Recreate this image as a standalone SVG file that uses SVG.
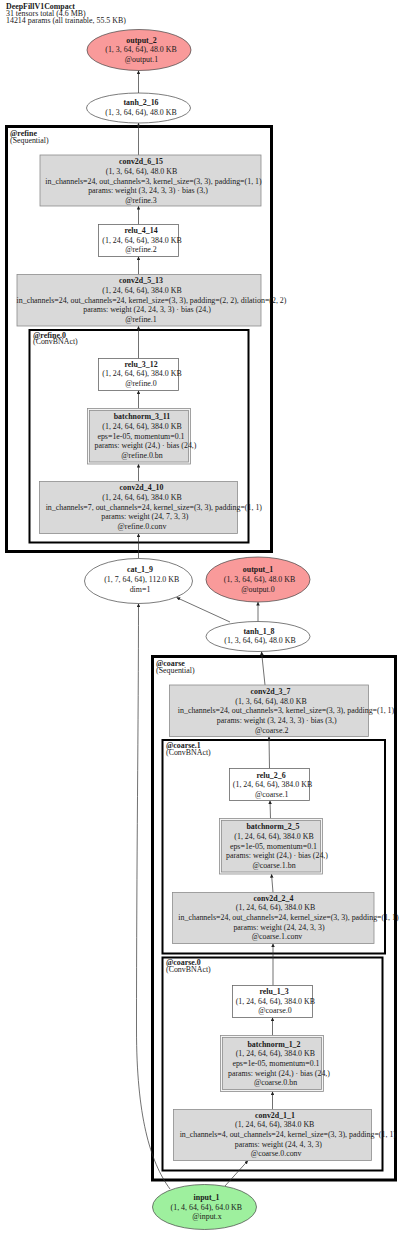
<svg xmlns="http://www.w3.org/2000/svg" width="400" height="1233" viewBox="0 0 400 1233">
<style>
text { font-family: "Liberation Serif", "Times New Roman", serif; font-size: 7.9px; fill: #1a1a1a; }
.c { text-anchor: middle; }
.b { font-weight: bold; }
.box { fill: #d9d9d9; stroke: #8c8c8c; stroke-width: 0.8; }
.bnin { fill: #d9d9d9; stroke: #8c8c8c; stroke-width: 0.8; }
.bnout { fill: #f4f4f4; stroke: #8c8c8c; stroke-width: 0.8; }
.wbox { fill: #ffffff; stroke: #666666; stroke-width: 0.8; }
.ell { fill: #ffffff; stroke: #444444; stroke-width: 0.7; }
.out { fill: #f99a9a; stroke: #444444; stroke-width: 0.7; }
.inp { fill: #9ef09e; stroke: #444444; stroke-width: 0.7; }
.cl { fill: none; stroke: #000000; stroke-width: 3; }
.cl2 { fill: none; stroke: #000000; stroke-width: 2; }
.e { fill: none; stroke: #333333; stroke-width: 0.7; marker-end: url(#ah); }
</style>
<defs>
<marker id="ah" viewBox="0 0 10 10" refX="10" refY="5" markerWidth="4" markerHeight="3.6" markerUnits="userSpaceOnUse" orient="auto">
<path d="M0,0 L10,5 L0,10 z" fill="#222222"/>
</marker>
</defs>
<rect width="400" height="1233" fill="#ffffff"/>

<g id="header">
<text x="6" y="8.8" class="b">DeepFillV1Compact</text>
<text x="6" y="16.4">31 tensors total (4.6 MB)</text>
<text x="6" y="23.2">14214 params (all trainable, 55.5 KB)</text>
</g>

<g id="cluster_refine">
<rect class="cl" x="6.5" y="126.5" width="265" height="425"/>
<text x="10" y="135.5" class="b">@refine</text>
<text x="10" y="142.5">(Sequential)</text>
</g>
<g id="cluster_refine_0">
<rect class="cl2" x="29.5" y="330" width="219" height="212.5"/>
<text x="33" y="337.7" class="b">@refine.0</text>
<text x="33" y="344.4">(ConvBNAct)</text>
</g>
<g id="cluster_coarse">
<rect class="cl" x="152.5" y="656.5" width="243" height="523.5"/>
<text x="156" y="665.8" class="b">@coarse</text>
<text x="156" y="672.5">(Sequential)</text>
</g>
<g id="cluster_coarse_1">
<rect class="cl2" x="162.5" y="740" width="222.5" height="213.5"/>
<text x="166" y="748.2" class="b">@coarse.1</text>
<text x="166" y="755">(ConvBNAct)</text>
</g>
<g id="cluster_coarse_0">
<rect class="cl2" x="162.5" y="957.5" width="220" height="213"/>
<text x="166" y="965" class="b">@coarse.0</text>
<text x="166" y="971.8">(ConvBNAct)</text>
</g>

<g id="connectors">
<path class="e" d="M138.5,93 L138.5,70.5"/>
<path class="e" d="M138.5,155 L138.5,123"/>
<path class="e" d="M138.5,224.5 L138.5,206"/>
<path class="e" d="M138.5,274.5 L138.5,256.5"/>
<path class="e" d="M138.5,358.5 L138.5,326"/>
<path class="e" d="M138.5,408.5 L138.5,390.5"/>
<path class="e" d="M138.5,481.5 L138.5,464"/>
<path class="e" d="M138.5,558.5 L138.5,533.5"/>
<path class="e" d="M230,622 L176.5,597.5"/>
<path class="e" d="M258,621.5 L258,602"/>
<path class="e" d="M265,685 L261.5,651.5"/>
<path class="e" d="M269.5,768.5 L269,736.5"/>
<path class="e" d="M270.5,818.5 L270,800.5"/>
<path class="e" d="M273,892.5 L271.5,874"/>
<path class="e" d="M273,985.5 L273,943.5"/>
<path class="e" d="M272.5,1035.5 L272.5,1017.5"/>
<path class="e" d="M272.5,1109.5 L272.5,1091.5"/>
<path class="e" d="M225,1186 L248,1160.5"/>
<path class="e" d="M170,1189 C150,1162 136.5,1115 136.5,1030 C136.5,860 138.5,720 138.5,603.5"/>
</g>

<g id="output_2">
<ellipse class="out" cx="139" cy="50" rx="52" ry="20.5"/>
<text x="141.5" y="42.6" class="c b">output_2</text>
<text x="141" y="52.3" class="c">(1, 3, 64, 64), 48.0 KB</text>
<text x="141.5" y="62" class="c">@output.1</text>
</g>
<g id="tanh_2_16">
<ellipse class="ell" cx="138.5" cy="108" rx="52" ry="15"/>
<text x="141" y="105" class="c b">tanh_2_16</text>
<text x="141" y="114.5" class="c">(1, 3, 64, 64), 48.0 KB</text>
</g>
<g id="conv2d_6_15">
<rect class="box" x="40" y="155" width="221" height="51"/>
<text x="141" y="164.4" class="c b">conv2d_6_15</text>
<text x="141.5" y="173.9" class="c">(1, 3, 64, 64), 48.0 KB</text>
<text x="153.5" y="183.5" class="c">in_channels=24, out_channels=3, kernel_size=(3, 3), padding=(1, 1)</text>
<text x="148" y="193" class="c">params: weight (3, 24, 3, 3) · bias (3,)</text>
<text x="141" y="202.7" class="c">@refine.3</text>
</g>
<g id="relu_4_14">
<rect class="wbox" x="98.5" y="224.5" width="80" height="32"/>
<text x="141" y="233" class="c b">relu_4_14</text>
<text x="142" y="242.7" class="c">(1, 24, 64, 64), 384.0 KB</text>
<text x="141" y="252.3" class="c">@refine.2</text>
</g>
<g id="conv2d_5_13">
<rect class="box" x="17" y="274.5" width="244" height="51.5"/>
<text x="141" y="283.4" class="c b">conv2d_5_13</text>
<text x="142" y="293" class="c">(1, 24, 64, 64), 384.0 KB</text>
<text x="151.5" y="302.7" class="c">in_channels=24, out_channels=24, kernel_size=(3, 3), padding=(2, 2), dilation=(2, 2)</text>
<text x="147" y="312.2" class="c">params: weight (24, 24, 3, 3) · bias (24,)</text>
<text x="141" y="322" class="c">@refine.1</text>
</g>
<g id="relu_3_12">
<rect class="wbox" x="98.5" y="358.5" width="80" height="32"/>
<text x="141" y="366.8" class="c b">relu_3_12</text>
<text x="142" y="376.4" class="c">(1, 24, 64, 64), 384.0 KB</text>
<text x="141" y="386" class="c">@refine.0</text>
</g>
<g id="batchnorm_3_11">
<rect class="bnout" x="87.5" y="408.5" width="103" height="55.5"/>
<rect class="bnin" x="89.5" y="410.5" width="99" height="51.5"/>
<text x="142" y="419.4" class="c b">batchnorm_3_11</text>
<text x="142" y="429.2" class="c">(1, 24, 64, 64), 384.0 KB</text>
<text x="141" y="438.7" class="c">eps=1e-05, momentum=0.1</text>
<text x="145.5" y="448.4" class="c">params: weight (24,) · bias (24,)</text>
<text x="142" y="457.8" class="c">@refine.0.bn</text>
</g>
<g id="conv2d_4_10">
<rect class="box" x="39.5" y="481.5" width="198" height="52"/>
<text x="141.5" y="490" class="c b">conv2d_4_10</text>
<text x="142" y="499.7" class="c">(1, 24, 64, 64), 384.0 KB</text>
<text x="153.8" y="509.5" class="c">in_channels=7, out_channels=24, kernel_size=(3, 3), padding=(1, 1)</text>
<text x="144.8" y="519.2" class="c">params: weight (24, 7, 3, 3)</text>
<text x="142" y="528.7" class="c">@refine.0.conv</text>
</g>
<g id="cat_1_9">
<ellipse class="ell" cx="138.5" cy="581" rx="54" ry="22.5"/>
<text x="140" y="571.8" class="c b">cat_1_9</text>
<text x="141.7" y="582" class="c">(1, 7, 64, 64), 112.0 KB</text>
<text x="140" y="591.7" class="c">dim=1</text>
</g>
<g id="output_1">
<ellipse class="out" cx="258" cy="579.5" rx="52" ry="22.5"/>
<text x="258" y="572" class="c b">output_1</text>
<text x="259.5" y="582" class="c">(1, 3, 64, 64), 48.0 KB</text>
<text x="258" y="592" class="c">@output.0</text>
</g>
<g id="tanh_1_8">
<ellipse class="ell" cx="258" cy="636.5" rx="52" ry="15"/>
<text x="259" y="633.7" class="c b">tanh_1_8</text>
<text x="260" y="643.4" class="c">(1, 3, 64, 64), 48.0 KB</text>
</g>
<g id="conv2d_3_7">
<rect class="box" x="169.5" y="685" width="199" height="51.5"/>
<text x="270.5" y="694.4" class="c b">conv2d_3_7</text>
<text x="271" y="703.8" class="c">(1, 3, 64, 64), 48.0 KB</text>
<text x="286" y="713.4" class="c">in_channels=24, out_channels=3, kernel_size=(3, 3), padding=(1, 1)</text>
<text x="276.7" y="723" class="c">params: weight (3, 24, 3, 3) · bias (3,)</text>
<text x="271.7" y="732.7" class="c">@coarse.2</text>
</g>
<g id="relu_2_6">
<rect class="wbox" x="229.5" y="768.5" width="80" height="32"/>
<text x="271" y="777.7" class="c b">relu_2_6</text>
<text x="272.5" y="787.4" class="c">(1, 24, 64, 64), 384.0 KB</text>
<text x="271.7" y="796.8" class="c">@coarse.1</text>
</g>
<g id="batchnorm_2_5">
<rect class="bnout" x="219.5" y="818.5" width="103" height="55.5"/>
<rect class="bnin" x="221.5" y="820.5" width="99" height="51.5"/>
<text x="273" y="829.4" class="c b">batchnorm_2_5</text>
<text x="274" y="839" class="c">(1, 24, 64, 64), 384.0 KB</text>
<text x="273.5" y="848.7" class="c">eps=1e-05, momentum=0.1</text>
<text x="277" y="858.4" class="c">params: weight (24,) · bias (24,)</text>
<text x="274" y="867.8" class="c">@coarse.1.bn</text>
</g>
<g id="conv2d_2_4">
<rect class="box" x="172.5" y="892.5" width="201.5" height="51"/>
<text x="273.5" y="901" class="c b">conv2d_2_4</text>
<text x="275.5" y="910.4" class="c">(1, 24, 64, 64), 384.0 KB</text>
<text x="288.5" y="920" class="c">in_channels=24, out_channels=24, kernel_size=(3, 3), padding=(1, 1)</text>
<text x="279" y="929.7" class="c">params: weight (24, 24, 3, 3)</text>
<text x="277" y="939.4" class="c">@coarse.1.conv</text>
</g>
<g id="relu_1_3">
<rect class="wbox" x="232.5" y="985.5" width="80" height="32"/>
<text x="274" y="994" class="c b">relu_1_3</text>
<text x="275.3" y="1003.7" class="c">(1, 24, 64, 64), 384.0 KB</text>
<text x="275" y="1013.3" class="c">@coarse.0</text>
</g>
<g id="batchnorm_1_2">
<rect class="bnout" x="220.5" y="1035.5" width="103" height="56"/>
<rect class="bnin" x="222.5" y="1037.5" width="99" height="52"/>
<text x="274" y="1046.7" class="c b">batchnorm_1_2</text>
<text x="275.3" y="1056.4" class="c">(1, 24, 64, 64), 384.0 KB</text>
<text x="276" y="1066" class="c">eps=1e-05, momentum=0.1</text>
<text x="279" y="1075.5" class="c">params: weight (24,) · bias (24,)</text>
<text x="275.5" y="1085" class="c">@coarse.0.bn</text>
</g>
<g id="conv2d_1_1">
<rect class="box" x="173.5" y="1109.5" width="198" height="51"/>
<text x="275" y="1117.8" class="c b">conv2d_1_1</text>
<text x="274.7" y="1127.4" class="c">(1, 24, 64, 64), 384.0 KB</text>
<text x="287.8" y="1137" class="c">in_channels=4, out_channels=24, kernel_size=(3, 3), padding=(1, 1)</text>
<text x="278.3" y="1146.7" class="c">params: weight (24, 4, 3, 3)</text>
<text x="276.2" y="1156.2" class="c">@coarse.0.conv</text>
</g>
<g id="input_1">
<ellipse class="inp" cx="204.5" cy="1207" rx="52" ry="22.5"/>
<text x="206.5" y="1200" class="c b">input_1</text>
<text x="206.3" y="1209.5" class="c">(1, 4, 64, 64), 64.0 KB</text>
<text x="207" y="1219.2" class="c">@input.x</text>
</g>
</svg>
